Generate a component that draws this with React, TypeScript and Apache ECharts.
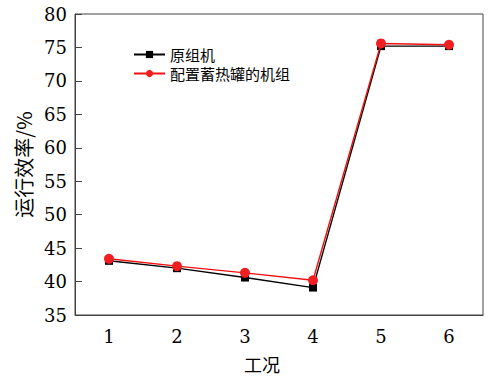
import React, { useEffect, useRef } from "react";
import * as echarts from "echarts";

const categories = ["1", "2", "3", "4", "5", "6"];
const originalUnit = [43.1, 42.0, 40.6, 39.1, 75.2, 75.2];
const withStorage = [43.4, 42.3, 41.3, 40.2, 75.6, 75.4];
const seriesNames = ["原组机", "配置蓄热罐的机组"];

const serif = "DejaVu Serif";
const cjk = "Noto Sans CJK SC";

export default function App() {
  const ref = useRef<HTMLDivElement>(null);
  useEffect(() => {
    if (!ref.current) return;
    const chart = echarts.init(ref.current, undefined, { renderer: "svg" });
    chart.setOption({
      animation: false,
      backgroundColor: "#fff",
      grid: {
        left: 75,
        right: 7,
        top: 14,
        bottom: 61,
        show: true,
        borderColor: "#444",
        borderWidth: 1,
        backgroundColor: "transparent",
      },
      legend: {
        orient: "vertical",
        left: 133,
        top: 47,
        padding: 0,
        itemWidth: 31,
        itemHeight: 9,
        itemGap: 4,
        textStyle: { fontFamily: cjk, fontSize: 15, color: "#000" },
        data: seriesNames,
      },
      xAxis: {
        type: "category",
        data: categories,
        boundaryGap: true,
        axisLine: { lineStyle: { color: "#444", width: 1 } },
        axisTick: { inside: true, alignWithLabel: true, length: 7, lineStyle: { color: "#444" } },
        axisLabel: { fontFamily: serif, fontSize: 18, color: "#000", margin: 12 },
        splitLine: { show: false },
      },
      yAxis: {
        type: "value",
        min: 35,
        max: 80,
        interval: 5,
        name: "运行效率/%",
        nameLocation: "middle",
        nameGap: 42,
        nameRotate: 90,
        nameTextStyle: { fontFamily: cjk, fontSize: 20, color: "#000" },
        axisLine: { show: true, lineStyle: { color: "#444", width: 1 } },
        axisTick: { show: true, inside: true, length: 7, lineStyle: { color: "#444" } },
        axisLabel: { fontFamily: serif, fontSize: 18, color: "#000", margin: 8 },
        splitLine: { show: false },
      },
      graphic: [
        {
          type: "text",
          x: 262,
          y: 364,
          style: {
            text: "工况",
            fontFamily: cjk,
            fontSize: 18,
            fill: "#000",
            align: "center",
            verticalAlign: "middle",
          },
        },
      ],
      series: [
        {
          name: seriesNames[0],
          type: "line",
          data: originalUnit,
          symbol: "rect",
          symbolSize: 8,
          lineStyle: { color: "#000", width: 1.4 },
          itemStyle: { color: "#000" },
          z: 2,
        },
        {
          name: seriesNames[1],
          type: "line",
          data: withStorage,
          symbol: "circle",
          symbolSize: 10,
          lineStyle: { color: "#f01010", width: 1.4 },
          itemStyle: { color: "#f02020" },
          z: 3,
        },
      ],
    });
    return () => chart.dispose();
  }, []);
  return <div ref={ref} style={{ width: 490, height: 376, position: "absolute", left: 0, top: 0 }} />;
}
